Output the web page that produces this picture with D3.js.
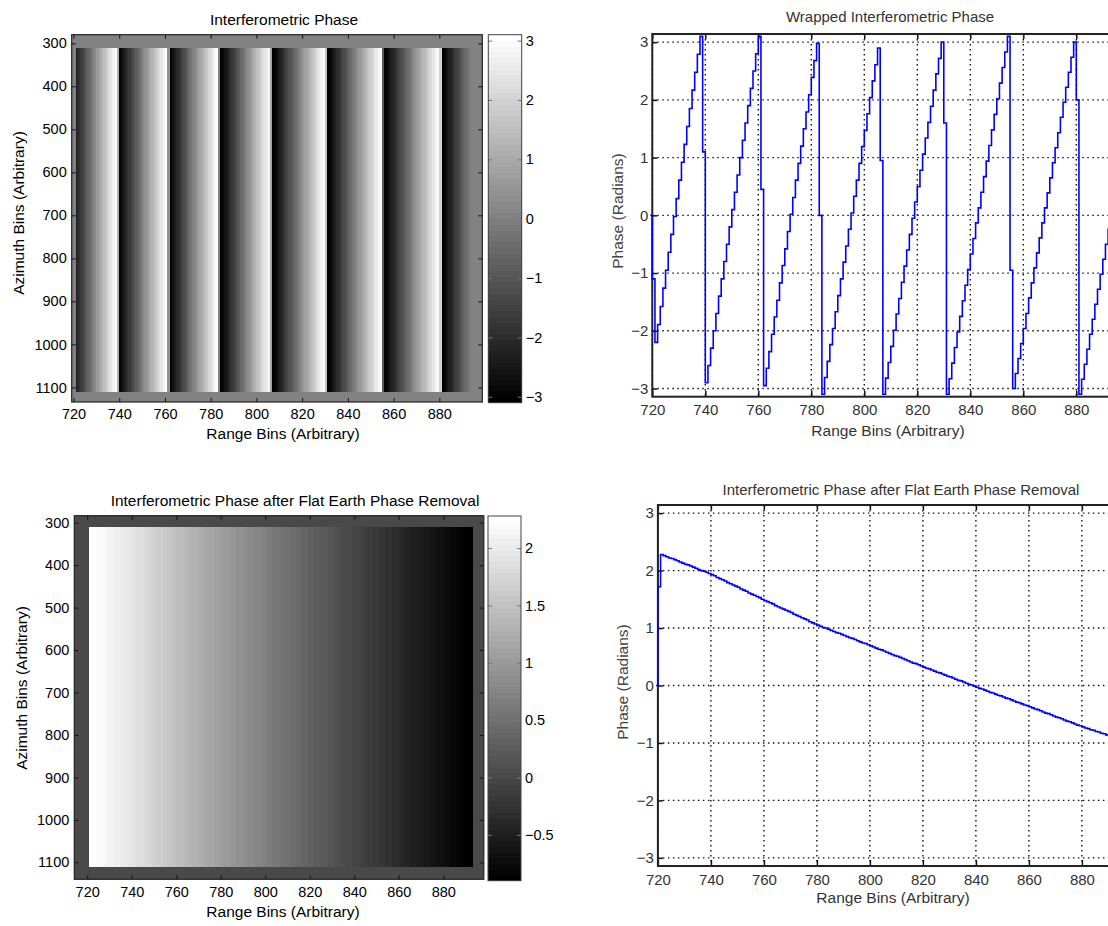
<!DOCTYPE html>
<html><head><meta charset="utf-8">
<script src="https://cdn.jsdelivr.net/npm/d3@7"></script>
<style>
html,body{margin:0;padding:0;background:#fff;}
svg{display:block;}
text{font-family:"Liberation Sans",Arial,sans-serif;}
</style></head>
<body>
<svg id="chart" width="1108" height="926"></svg>
<script>
// ---------------- DATA ----------------
const rangeBins = d3.range(719, 900); // range bin positions 719..899
const wrappedPhase = [
  0, -1.10,
  -2.20,-1.89,-1.58,-1.26,-0.95,-0.64,-0.33,-0.02,0.29,0.61,0.92,1.23,1.54,1.85,2.17,2.48,2.79,3.10,
  1.10,
  -2.90,-2.60,-2.30,-2.00,-1.70,-1.40,-1.10,-0.80,-0.50,-0.20,0.10,0.40,0.70,1.00,1.30,1.60,1.90,2.20,2.50,2.80,3.10,
  0.45,
  -2.95,-2.65,-2.36,-2.06,-1.76,-1.47,-1.17,-0.87,-0.58,-0.28,0.02,0.31,0.61,0.90,1.20,1.50,1.79,2.09,2.39,2.68,2.98,
  0.00,
  -3.10,-2.81,-2.53,-2.24,-1.96,-1.67,-1.39,-1.10,-0.81,-0.53,-0.24,0.04,0.33,0.61,0.90,1.19,1.47,1.76,2.04,2.33,2.61,2.90,
  0.95,
  -3.10,-2.82,-2.55,-2.27,-1.99,-1.71,-1.44,-1.16,-0.88,-0.60,-0.33,-0.05,0.23,0.50,0.78,1.06,1.34,1.61,1.89,2.17,2.45,2.72,3.00,
  1.60,
  -3.10,-2.83,-2.56,-2.29,-2.02,-1.75,-1.48,-1.21,-0.94,-0.67,-0.40,-0.13,0.13,0.40,0.67,0.94,1.21,1.48,1.75,2.02,2.29,2.56,2.83,3.10,
  -0.95,
  -3.00,-2.74,-2.48,-2.22,-1.96,-1.70,-1.43,-1.17,-0.91,-0.65,-0.39,-0.13,0.13,0.39,0.65,0.91,1.17,1.43,1.70,1.96,2.22,2.48,2.74,3.00,
  2.00,
  -3.10,-2.84,-2.58,-2.32,-2.06,-1.80,-1.54,-1.28,-1.02,-0.76,-0.50,-0.24,0.02,0.28,0.54,0.80,1.06,1.32,1.58
];
const flatPhase = [
  0, 1.72,
  2.28,2.26,2.24,2.22,2.21,2.19,2.17,2.15,2.13,2.11,2.10,2.08,2.06,2.04,2.02,2.00,1.99,1.97,1.95,1.93,
  1.91,1.88,1.86,1.84,1.82,1.79,1.77,1.75,1.73,1.71,1.68,1.66,1.64,1.61,1.59,1.57,1.55,1.53,1.50,1.48,
  1.46,1.44,1.42,1.39,1.37,1.35,1.33,1.31,1.29,1.27,1.24,1.22,1.20,1.18,1.16,1.14,1.11,1.09,1.07,1.05,
  1.03,1.01,1.00,0.98,0.96,0.94,0.92,0.91,0.89,0.87,0.85,0.83,0.82,0.80,0.78,0.76,0.74,0.73,0.71,0.69,
  0.67,0.65,0.63,0.62,0.60,0.58,0.56,0.54,0.52,0.51,0.49,0.47,0.45,0.43,0.41,0.39,0.38,0.36,0.34,0.32,
  0.30,0.29,0.27,0.25,0.23,0.22,0.20,0.18,0.16,0.15,0.13,0.11,0.09,0.08,0.06,0.04,0.02,0.01,-0.01,-0.03,
  -0.05,-0.06,-0.08,-0.10,-0.12,-0.13,-0.15,-0.17,-0.18,-0.20,-0.22,-0.23,-0.25,-0.27,-0.29,-0.30,-0.32,-0.34,-0.35,-0.37,
  -0.39,-0.41,-0.42,-0.44,-0.46,-0.48,-0.49,-0.51,-0.53,-0.55,-0.56,-0.58,-0.60,-0.62,-0.63,-0.65,-0.67,-0.69,-0.70,-0.72,
  -0.74,-0.75,-0.77,-0.78,-0.80,-0.81,-0.83,-0.84,-0.86,-0.87,-0.89,-0.90,-0.92,-0.93,-0.95,-0.96,-0.98,-0.99,-1.01
];
const imageRangeExtent = [721, 892];     // range bins covered by the image columns
const imageAzimuthExtent = [311, 1110];  // azimuth bins covered by the image rows
const rangeTicks = [720, 740, 760, 780, 800, 820, 840, 860, 880];
const azimuthTicks = [300, 400, 500, 600, 700, 800, 900, 1000, 1100];
const phaseTicks = [-3, -2, -1, 0, 1, 2, 3];
const cbTicksWrapped = [-3, -2, -1, 0, 1, 2, 3];
const cbTicksFlat = [-0.5, 0, 0.5, 1, 1.5, 2];
const titles = ["Interferometric Phase", "Wrapped Interferometric Phase",
  "Interferometric Phase after Flat Earth Phase Removal", "Interferometric Phase after Flat Earth Phase Removal"];
const xLabel = "Range Bins (Arbitrary)";
const yLabelImage = "Azimuth Bins (Arbitrary)";
const yLabelLine = "Phase (Radians)";

// ---------------- HELPERS ----------------
const svg = d3.select("#chart");
const FONT = '"Liberation Sans", Arial, sans-serif';
const fmt = d => String(d).replace("-", "\u2212");
const greys = d3.range(64).map(i => { const c = Math.round(i * 255 / 63); return d3.rgb(c, c, c).formatHex(); });
const points = rangeBins.map((b, i) => ({ bin: b, w: wrappedPhase[i], f: flatPhase[i] }));

function styleAxis(g, size, color) {
  g.select(".domain").remove();
  g.selectAll(".tick line").attr("stroke", "#111").attr("stroke-width", 1);
  g.selectAll(".tick text").attr("fill", color).style("font-size", size + "px").style("font-family", FONT);
}

function imagePanel(c) {
  const g = svg.append("g");
  const x = d3.scaleLinear().domain(c.xDomain).range([c.L, c.R]);
  const y = d3.scaleLinear().domain(c.yDomain).range([c.T, c.B]);
  const cols = points.filter(p => p.bin >= imageRangeExtent[0] && p.bin <= imageRangeExtent[1]);
  const ext = d3.extent(cols, p => p[c.key]);
  const color = d3.scaleQuantize().domain(ext).range(greys);
  // zero padding around the image
  g.append("rect").attr("x", c.L).attr("y", c.T).attr("width", c.R - c.L).attr("height", c.B - c.T)
    .attr("fill", color(0));
  g.selectAll("rect.col").data(cols).enter().append("rect").attr("class", "col")
    .attr("x", p => x(p.bin)).attr("width", p => x(p.bin + 1) - x(p.bin) + 0.6)
    .attr("y", y(imageAzimuthExtent[0])).attr("height", y(imageAzimuthExtent[1]) - y(imageAzimuthExtent[0]))
    .attr("fill", p => color(p[c.key]))
    .attr("shape-rendering", "crispEdges");
  // axes
  const ax = (gen, tx, ty, labels) => {
    const a = g.append("g").attr("transform", `translate(${tx},${ty})`).call(gen);
    if (!labels) a.selectAll(".tick text").remove();
    styleAxis(a, c.tickSize, "#000");
    return a;
  };
  ax(d3.axisBottom(x).tickValues(rangeTicks).tickSize(-4).tickPadding(7).tickFormat(fmt), 0, c.B, true);
  ax(d3.axisTop(x).tickValues(rangeTicks).tickSize(-4), 0, c.T, false);
  ax(d3.axisLeft(y).tickValues(azimuthTicks).tickSize(-4).tickPadding(5).tickFormat(fmt), c.L, 0, true);
  ax(d3.axisRight(y).tickValues(azimuthTicks).tickSize(-4), c.R, 0, false);
  g.append("rect").attr("x", c.L).attr("y", c.T).attr("width", c.R - c.L).attr("height", c.B - c.T)
    .attr("fill", "none").attr("stroke", "#222").attr("stroke-width", 1.2);
  // colorbar
  const cy = d3.scaleLinear().domain(ext).range([c.cbB, c.cbT]);
  const band = (ext[1] - ext[0]) / 64;
  g.selectAll("rect.cb").data(greys).enter().append("rect").attr("class", "cb")
    .attr("x", c.cbL).attr("width", c.cbR - c.cbL)
    .attr("y", (d, i) => cy(ext[0] + (i + 1) * band)).attr("height", (d, i) => cy(ext[0] + i * band) - cy(ext[0] + (i + 1) * band) + 0.5)
    .attr("fill", d => d).attr("shape-rendering", "crispEdges");
  const cbr = g.append("g").attr("transform", `translate(${c.cbR},0)`)
    .call(d3.axisRight(cy).tickValues(c.cbTicks).tickSize(-4).tickPadding(4).tickFormat(fmt));
  styleAxis(cbr, c.tickSize, "#000");
  cbr.selectAll(".tick line").attr("stroke", "#777");
  const cbl = g.append("g").attr("transform", `translate(${c.cbL},0)`)
    .call(d3.axisLeft(cy).tickValues(c.cbTicks).tickSize(-4));
  cbl.selectAll(".tick text").remove();
  styleAxis(cbl, c.tickSize, "#000");
  cbl.selectAll(".tick line").attr("stroke", "#777");
  g.append("rect").attr("x", c.cbL).attr("y", c.cbT).attr("width", c.cbR - c.cbL).attr("height", c.cbB - c.cbT)
    .attr("fill", "none").attr("stroke", "#444").attr("stroke-width", 1);
  // texts
  g.append("text").attr("x", c.titleX).attr("y", c.titleY).attr("text-anchor", "middle")
    .style("font-size", c.titleSize + "px").text(c.title);
  g.append("text").attr("x", c.xlX).attr("y", c.xlY).attr("text-anchor", "middle")
    .style("font-size", c.labelSize + "px").text(xLabel);
  g.append("text").attr("transform", `translate(${c.ylX},${c.ylY}) rotate(-90)`).attr("text-anchor", "middle")
    .style("font-size", c.labelSize + "px").text(yLabelImage);
}

function linePanel(c) {
  const g = svg.append("g");
  const x = d3.scaleLinear().domain(c.xDomain).range([c.L, c.R]);
  const y = d3.scaleLinear().domain([-Math.PI, Math.PI]).range([c.B, c.T]);
  const id = "clip" + c.key;
  svg.append("defs").append("clipPath").attr("id", id).append("rect")
    .attr("x", c.L - 2).attr("y", c.T - 2).attr("width", c.R - c.L + 4).attr("height", c.B - c.T + 4);
  // grid
  const gridX = rangeTicks.concat([900]);
  g.selectAll("line.gx").data(gridX).enter().append("line")
    .attr("x1", d => x(d)).attr("x2", d => x(d)).attr("y1", c.T).attr("y2", c.B)
    .attr("stroke", "#111").attr("stroke-width", 1.4).attr("stroke-dasharray", "1.5,3.5");
  g.selectAll("line.gy").data(phaseTicks).enter().append("line")
    .attr("x1", c.L).attr("x2", c.R).attr("y1", d => y(d)).attr("y2", d => y(d))
    .attr("stroke", "#111").attr("stroke-width", 1.4).attr("stroke-dasharray", "1.5,3.5");
  // axes
  const ax = (gen, tx, ty, labels) => {
    const a = g.append("g").attr("transform", `translate(${tx},${ty})`).call(gen);
    if (!labels) a.selectAll(".tick text").remove();
    styleAxis(a, c.tickSize, "#333");
    a.selectAll(".tick line").attr("stroke-width", 1.5);
    return a;
  };
  ax(d3.axisBottom(x).tickValues(rangeTicks).tickSize(-6).tickPadding(8).tickFormat(fmt), 0, c.B, true);
  ax(d3.axisTop(x).tickValues(rangeTicks).tickSize(-5), 0, c.T, false);
  ax(d3.axisLeft(y).tickValues(phaseTicks).tickSize(-5).tickPadding(4).tickFormat(fmt), c.L, 0, true);
  g.append("rect").attr("x", c.L).attr("y", c.T).attr("width", c.R - c.L).attr("height", c.B - c.T)
    .attr("fill", "none").attr("stroke", "#222").attr("stroke-width", 2);
  // line (drawn over the frame)
  const line = d3.line().x(p => x(p.bin)).y(p => y(p[c.key])).curve(d3.curveStepAfter);
  g.append("path").datum(points).attr("d", line).attr("fill", "none")
    .attr("stroke", "#0000ff").attr("stroke-width", 1.6).attr("clip-path", `url(#${id})`);
  g.append("text").attr("x", c.titleX).attr("y", c.titleY).attr("text-anchor", "middle").attr("fill", "#333")
    .style("font-size", c.titleSize + "px").text(c.title);
  g.append("text").attr("x", c.xlX).attr("y", c.xlY).attr("text-anchor", "middle").attr("fill", "#333")
    .style("font-size", c.labelSize + "px").text(xLabel);
  g.append("text").attr("transform", `translate(${c.ylX},${c.ylY}) rotate(-90)`).attr("text-anchor", "middle").attr("fill", "#444")
    .style("font-size", c.labelSize + "px").text(yLabelLine);
}

// ---------------- PANELS ----------------
imagePanel({ key: "w", L: 71.7, R: 482.3, T: 34.7, B: 402, xDomain: [719.2, 898.8], yDomain: [280, 1134],
  cbL: 488.3, cbR: 521.7, cbT: 34.7, cbB: 402.7, cbTicks: cbTicksWrapped, tickSize: 14.5,
  title: titles[0], titleX: 284, titleY: 24.5, titleSize: 15.5, xlX: 283, xlY: 439, ylX: 23.5, ylY: 213, labelSize: 15.5 });

linePanel({ key: "w", L: 652.3, R: 1129.3, T: 34, B: 396.7, xDomain: [720, 900], tickSize: 15,
  title: titles[1], titleX: 890, titleY: 21.5, titleSize: 15, xlX: 888, xlY: 436, ylX: 623, ylY: 211, labelSize: 15.5 });

imagePanel({ key: "f", L: 74.3, R: 483.8, T: 515.7, B: 879.3, xDomain: [714.2, 898.2], yDomain: [283.5, 1140],
  cbL: 488, cbR: 521, cbT: 516, cbB: 880.7, cbTicks: cbTicksFlat, tickSize: 14.5,
  title: titles[2], titleX: 295, titleY: 505.5, titleSize: 15.5, xlX: 283, xlY: 917, ylX: 27, ylY: 688, labelSize: 15.5 });

linePanel({ key: "f", L: 657.9, R: 1134.9, T: 505, B: 866, xDomain: [720, 900], tickSize: 15,
  title: titles[3], titleX: 901, titleY: 494.5, titleSize: 15, xlX: 893, xlY: 903, ylX: 628, ylY: 682, labelSize: 15.5 });
</script>
</body></html>
